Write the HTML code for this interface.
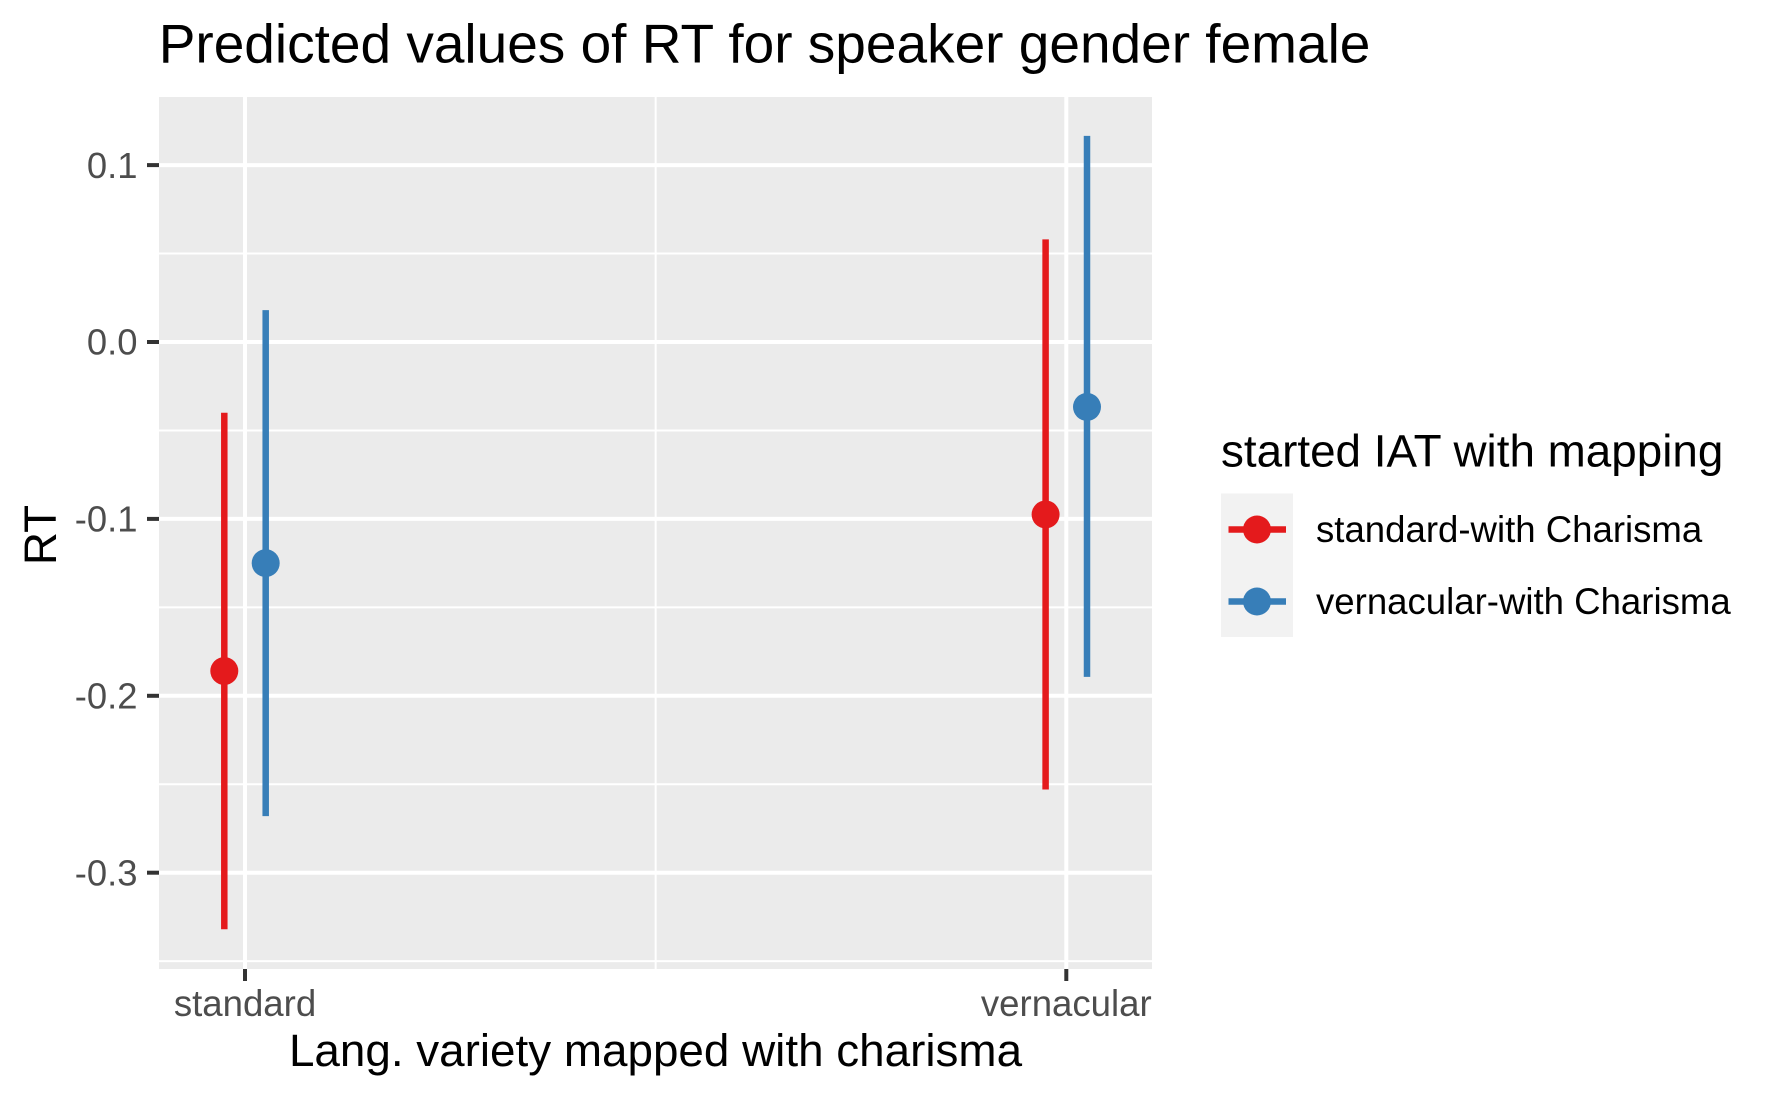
<!DOCTYPE html>
<html lang="en">
<head>
<meta charset="utf-8">
<title>Predicted values of RT for speaker gender female</title>
<style>
  html, body { margin: 0; padding: 0; background: #fff; }
  svg { display: block; font-family: "Liberation Sans", Arial, sans-serif; }
</style>
</head>
<body>
<svg id="chart" xmlns="http://www.w3.org/2000/svg" width="1777" height="1098" viewBox="0 0 1777 1098">
  <rect x="0" y="0" width="1777" height="1098" fill="#ffffff"/>
  <text x="158.7" y="62.5" font-size="55" fill="#000000">Predicted values of RT for speaker gender female</text>
  <rect x="159" y="97" width="993" height="872" fill="#ebebeb"/>
  <g id="grid"></g>
  <g id="ticks"></g>
  <g id="marks"></g>
  <text x="655.5" y="1066" font-size="45.8" text-anchor="middle" fill="#000000">Lang. variety mapped with charisma</text>
  <text transform="translate(56 535) rotate(-90)" font-size="45.8" text-anchor="middle" fill="#000000">RT</text>
  <g>
    <text x="1231" y="466.5" font-size="45.8" fill="#000000" transform="translate(-10 0)">started IAT with mapping</text>
    <rect x="1231" y="497" width="72" height="143.5" fill="#f2f2f2" transform="translate(-10 -3.5)"/>
    <g id="legend-entries" transform="translate(-10.5 -3.5)"></g>
  </g>
</svg>
<script>
// Chart data
const categories = ['standard', 'vernacular'];
const seriesNames = ['standard-with Charisma', 'vernacular-with Charisma'];
const seriesColors = ['#e41a1c', '#377eb8'];
const standardMappingMeans = [-0.186, -0.0975];
const standardMappingLower = [-0.332, -0.253];
const standardMappingUpper = [-0.04, 0.058];
const vernacularMappingMeans = [-0.125, -0.0367];
const vernacularMappingLower = [-0.268, -0.1893];
const vernacularMappingUpper = [0.018, 0.1165];
const yTickValues = [-0.3, -0.2, -0.1, 0.0, 0.1];
const yTickLabels = ['-0.3', '-0.2', '-0.1', '0.0', '0.1'];
const yMinorValues = [-0.35, -0.25, -0.15, -0.05, 0.05];

// Axis functions
const SVG_NS = 'http://www.w3.org/2000/svg';
const panel = { left: 159, right: 1152, top: 97, bottom: 969 };
function xScale(position) { return 245 + position * 821.3; }
function yScale(value) { return 342 - value * 1769; }
const dodge = [-0.0252, 0.0252];

function make(tag, parent, attrs) {
  const node = document.createElementNS(SVG_NS, tag);
  for (const key in attrs) node.setAttribute(key, attrs[key]);
  parent.appendChild(node);
  return node;
}

const grid = document.getElementById('grid');
const ticks = document.getElementById('ticks');
const marks = document.getElementById('marks');
const legendEntries = document.getElementById('legend-entries');

yMinorValues.forEach(function (value) {
  const line = make('line', grid, { x1: panel.left, x2: panel.right, y1: yScale(value), y2: yScale(value), stroke: '#ffffff', 'stroke-width': 2 });
  
  
});
const midLine = make('line', grid, { x1: xScale(0.5), x2: xScale(0.5), y1: panel.top, y2: panel.bottom, stroke: '#ffffff', 'stroke-width': 2 });



yTickValues.forEach(function (value, i) {
  const y = yScale(value);
  const line = make('line', grid, { x1: panel.left, x2: panel.right, y1: y, y2: y, stroke: '#ffffff', 'stroke-width': 4 });
  
  
  const tick = make('line', ticks, { x1: 147, x2: panel.left, y1: y, y2: y, stroke: '#333333', 'stroke-width': 4 });
  
  
  const label = make('text', ticks, { x: 137.5, y: y + 12.7, 'font-size': 36.4, 'text-anchor': 'end', fill: '#4d4d4d' });
  
  
  label.textContent = yTickLabels[i];
});

categories.forEach(function (category, i) {
  const x = xScale(i);
  const line = make('line', grid, { x1: x, x2: x, y1: panel.top, y2: panel.bottom, stroke: '#ffffff', 'stroke-width': 4 });
  
  
  const tick = make('line', ticks, { x1: x, x2: x, y1: panel.bottom, y2: 981, stroke: '#333333', 'stroke-width': 4 });
  
  
  const label = make('text', ticks, { x: x, y: 1016, 'font-size': 36.6, 'text-anchor': 'middle', fill: '#4d4d4d' });
  
  
  label.textContent = category;
});

const seriesMeans = [standardMappingMeans, vernacularMappingMeans];
const seriesLower = [standardMappingLower, vernacularMappingLower];
const seriesUpper = [standardMappingUpper, vernacularMappingUpper];

seriesNames.forEach(function (name, s) {
  categories.forEach(function (category, i) {
    const x = xScale(i + dodge[s]);
    const bar = make('line', marks, { x1: x, x2: x, y1: yScale(seriesUpper[s][i]), y2: yScale(seriesLower[s][i]), stroke: seriesColors[s], 'stroke-width': 6.5 });
    
    
    const point = make('circle', marks, { cx: x, cy: yScale(seriesMeans[s][i]), r: 14, fill: seriesColors[s] });
    
    
  });

  const keyY = 533 + s * 72;
  const keyLine = make('line', legendEntries, { x1: 1239, x2: 1296.5, y1: keyY, y2: keyY, stroke: seriesColors[s], 'stroke-width': 6.5 });
  
  
  const keyDot = make('circle', legendEntries, { cx: 1267.5, cy: keyY, r: 14, fill: seriesColors[s] });
  
  
  const keyLabel = make('text', legendEntries, { x: 1326.5, y: keyY + 12.5, 'font-size': 36.6, fill: '#000000' });
  
  
  keyLabel.textContent = name;
});
</script>
</body>
</html>
